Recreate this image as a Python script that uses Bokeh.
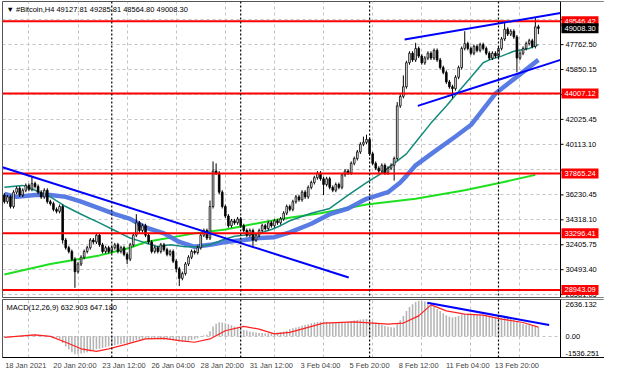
from bokeh.plotting import figure
from bokeh.layouts import column
from bokeh.models import FixedTicker, Span, Label, ColumnDataSource, Range1d, Grid
from bokeh.core.properties import value
from bokeh.embed import file_html
from bokeh.resources import INLINE

# ---------------- data ----------------
symbol_title = "\u25bc #Bitcoin,H4  49127.81 49285.81 48564.80 49008.30"
macd_title = "MACD(12,26,9) 632.903 647.180"

date_tick_bars = [0, 16, 32, 48, 64, 80, 96, 112, 128, 144, 160]
date_tick_labels = ["18 Jan 2021", "20 Jan 20:00", "23 Jan 12:00", "26 Jan 04:00", "28 Jan 20:00",
                    "31 Jan 12:00", "3 Feb 04:00", "5 Feb 20:00", "8 Feb 12:00", "11 Feb 04:00",
                    "13 Feb 20:00"]
grid_bars = [8, 24, 40, 56, 72, 88, 104, 120, 136, 152, 168]
week_separator_bars = [35, 77, 119, 161]

price_ticks = [28581.05, 30493.40, 32405.75, 34318.10, 36230.45, 38142.80, 40113.10,
               42025.45, 43937.80, 45850.15, 47762.50, 49674.85]
shown_price_ticks = [28581.05, 30493.40, 32405.75, 34318.10, 36230.45, 40113.10,
                     42025.45, 45850.15, 47762.50]

levels = [49546.42, 44007.12, 37865.24, 33296.41, 28943.09]
current_price = 49008.30

first_open = 36220.0
closes = [
    35710, 36080, 35340, 36440, 36740, 36220, 36590, 36960, 36660, 37100,
    36880, 36440, 36080, 36590, 35710, 35560, 35120, 34970, 35340, 32770,
    32180, 31890, 31300, 30340, 30930, 31450, 31890, 32180, 32770, 32620,
    33140, 32400, 31890, 32180, 31890, 32180, 32400, 31890, 32180, 31670,
    31300, 32400, 33140, 34090, 33500, 33870, 33140, 32620, 31890, 32180,
    31890, 32400, 32030, 31670, 31890, 31150, 30560, 29830, 30200, 30930,
    31450, 31890, 31810, 32180, 33140, 33500, 32920, 35340, 38060, 37910,
    36440, 35340, 34610, 33870, 34240, 34090, 34390, 33870, 33500, 33140,
    33500, 32770, 33140, 33500, 33870, 33650, 34090, 33870, 34240, 34090,
    34390, 34830, 35340, 35120, 35710, 36080, 35860, 36440, 36080, 36810,
    37180, 37550, 37910, 37470, 37030, 37470, 36810, 36590, 37030, 36810,
    37770, 38060, 37910, 38650, 39020, 39530, 40120, 40270, 40490, 39380,
    38650, 38280, 38060, 38500, 37910, 38280, 38500, 39020, 43060, 43790,
    44530, 46370, 47100, 46590, 47470, 46880, 46370, 46730, 47100, 46730,
    47320, 46590, 46000, 45630, 44900, 44530, 44380, 45260, 46000, 47470,
    47840, 47470, 47100, 47620, 47320, 47760, 47470, 47100, 46730, 47100,
    46880, 47470, 48200, 48940, 48570, 48790, 48350, 46730, 47100, 47470,
    47840, 48060, 47620, 49127.81, 49008.30,
]
high_marks = {9: 37690, 43: 34750, 67: 35800, 68: 38800, 69: 38650, 117: 40700, 118: 40850,
              128: 43350, 130: 45400, 134: 47900, 150: 48790, 163: 49450, 173: 49820, 174: 49285.81}
low_marks = {19: 32500, 23: 29100, 40: 30930, 56: 30300, 57: 29240, 81: 32180, 104: 36220,
             127: 37330, 146: 43650, 167: 45630, 174: 48564.80}
default_wick = 150.0

teal_bars = [0, 6, 10, 15, 20, 25, 31, 36, 41, 46, 50, 54, 59, 63, 67, 71, 75, 78, 83, 87,
             90, 93, 100, 106, 112, 118, 123, 127, 131, 134, 139, 144, 148, 152, 156, 158, 162, 166, 171, 174]
teal_vals = [36810, 36960, 36590, 36080, 35340, 34750, 34090, 33500, 32920, 32550,
             32250, 32400, 32250, 32250, 32400, 32770, 33060, 33140, 33280, 33580,
             33870, 34250, 34830, 35190, 36220, 37180, 37910, 38650, 39380, 40270,
             41740, 43060, 44160, 45260, 46370, 46590, 46880, 47250, 47470, 47760]

blue_bars = [0, 4, 10, 15, 20, 25, 31, 36, 41, 46, 52, 57, 62, 67, 72, 78, 83, 88, 93, 100,
             106, 112, 118, 125, 129, 131, 134, 140, 147, 152, 160, 168, 174]
blue_vals = [36300, 36080, 36220, 36220, 36080, 35710, 35190, 34750, 34390, 33730,
             33280, 32620, 32250, 32400, 32620, 32770, 32920, 32990, 33360, 34020,
             34750, 35190, 35930, 36440, 37180, 37690, 38500, 39530, 40710, 41590,
             44010, 45480, 46590]

green_bars = [0, 15, 31, 41, 46, 62, 72, 90, 103, 118, 134, 150, 162, 173]
green_vals = [30120, 30930, 31590, 32180, 32620, 33280, 33580, 34390, 34830, 35490,
              35930, 36590, 37180, 37770]

trend_down_bars = [-0.6, 112.2]
trend_down_vals = [38350, 29900]
channel_up_bars = [130.4, 181.2]
channel_up_vals = [48150, 50190]
channel_low_bars = [134.7, 181.2]
channel_low_vals = [43060, 46590]

macd_hist = [
    -60, -40, -20, 0, 30, 50,
    80, 100, 120, 130, 120, 100, 90,
    60, 30, 0, -60, -120, -200,
    -500, -750, -950, -1150, -1300, -1300, -1250, -1200, -1150,
    -1100, -1000, -950, -900, -850, -800, -750,
    -700, -650, -600, -560, -520, -500, -450, -380, -300, -260, -220,
    -200, -200, -220, -230, -230, -230, -240, -240, -250, -280, -320, -380, -400, -380, -340,
    -280, -220, -150, -50, 50, 100,
    350, 700, 900, 1000, 980, 930, 860, 780,
    700, 600, 520, 450, 400, 340, 300, 260, 230, 220, 200,
    200, 210, 230, 260, 300, 340, 380, 500, 560, 620,
    680, 740, 800, 860, 920, 980, 1020, 1040, 1040, 1030,
    1000, 980, 960, 960, 980, 1000, 1040, 1080, 1120, 1160, 1200, 1220, 1230,
    1150, 1050, 960, 880, 800, 730, 680, 640, 620,
    850, 1150, 1450, 1800, 2100, 2300, 2450, 2550, 2550, 2500, 2400,
    2250, 2100, 1950, 1800, 1650, 1500, 1400, 1350,
    1380, 1450, 1550, 1600, 1620, 1600, 1580, 1550, 1520, 1500,
    1450, 1400, 1350, 1300, 1280, 1300, 1350, 1350, 1330,
    1200, 1050, 950, 880, 820, 780, 740, 700, 632.903,
]
signal_bars = [0, 10, 15, 20, 25, 30, 34, 39, 46, 52, 57, 62, 67, 72, 78, 83, 88, 93, 104,
               114, 125, 130, 135, 139, 144, 150, 156, 162, 169, 174]
signal_vals = [-85, 85, -15, -440, -910, -1100, -910, -630, -200, -160, -320, -440, -200, 390,
               700, 510, 160, 270, 940, 1030, 870, 940, 1460, 2250, 1815, 1580, 1510, 1225,
               980, 647.18]
macd_trend_bars = [137.8, 177.5]
macd_trend_vals = [2407, 797]
macd_min, macd_max = -1536.251, 2636.132
macd_scale_vals = [2636.132, 0.0, -1536.251]
macd_scale_labels = ["2636.132", "0.00", "-1536.251"]

# ---------------- layout constants ----------------
FONT = "Liberation Sans"
FS = "7.5px"
X0, X1 = -0.6, 181.2             # bar range of the chart area
CHART_W = 558                    # chart area width in px
AXIS_W = 44                      # price scale width in px
PPB = CHART_W / (X1 - X0)        # px per bar
XE = X0 + (CHART_W + AXIS_W) / PPB
Y0, Y1 = 28360, 51070
FIG_W = 2 + CHART_W + AXIS_W

xr = Range1d(X0, XE)


def base_figure(height, y_range, border_bottom, x_axis):
    f = figure(width=FIG_W, height=height, x_range=xr, y_range=y_range,
               output_backend="svg", toolbar_location=None,
               x_axis_location=x_axis, y_axis_location=None,
               min_border_left=2, min_border_right=0, min_border_top=1,
               min_border_bottom=border_bottom,
               background_fill_color="white", border_fill_color="white",
               outline_line_color="#555555")
    if len(f.xgrid) == 0:
        f.add_layout(Grid(dimension=0))
    if len(f.ygrid) == 0:
        f.add_layout(Grid(dimension=1))
    f.xgrid.ticker = FixedTicker(ticks=grid_bars)
    for g in (f.xgrid, f.ygrid):
        g.grid_line_color = "#c4c4c4"
        g.grid_line_dash = "3 3"
    for b in week_separator_bars:
        f.add_layout(Span(location=b, dimension="height", line_color="black",
                          line_dash="2 2", line_width=1.2))
    return f


def scale_strip(f, lo, hi):
    f.quad(left=[X1], right=[XE], bottom=[lo], top=[hi], fill_color="white", line_color=None)
    f.segment(x0=[X1], x1=[X1], y0=[lo], y1=[hi], line_color="black", line_width=1)


# ---------------- price pane ----------------
n = len(closes)
opens = [first_open] + closes[:-1]
idx = list(range(n))
highs, lows = [], []
for i in idx:
    o, c = opens[i], closes[i]
    highs.append(high_marks.get(i, max(o, c) + default_wick))
    lows.append(low_marks.get(i, min(o, c) - default_wick))
tops = [max(o, c) for o, c in zip(opens, closes)]
bots = [min(o, c) for o, c in zip(opens, closes)]
fills = ["white" if c >= o else "black" for o, c in zip(opens, closes)]
src = ColumnDataSource(dict(x=idx, h=highs, l=lows, top=tops, bot=bots, fill=fills))

p = base_figure(298, Range1d(Y0, Y1), 1, None)
p.ygrid.ticker = FixedTicker(ticks=price_ticks)

p.line(green_bars, green_vals, line_color="#1ee01e", line_width=2)
p.line(blue_bars, blue_vals, line_color="#4f74e3", line_width=4.5, line_alpha=0.95)
p.line(teal_bars, teal_vals, line_color="#138a7c", line_width=1.5)

p.segment(x0="x", y0="l", x1="x", y1="h", source=src, line_color="black", line_width=1)
p.vbar(x="x", top="top", bottom="bot", width=0.55, source=src, fill_color="fill",
       line_color="black", line_width=0.8)

p.segment(x0=[X0] * len(levels), x1=[X1] * len(levels), y0=levels, y1=levels,
          line_color="#ff0000", line_width=2)

p.line(trend_down_bars, trend_down_vals, line_color="#0000ff", line_width=2)
p.line(channel_up_bars, channel_up_vals, line_color="#0000ff", line_width=2)
p.line(channel_low_bars, channel_low_vals, line_color="#0000ff", line_width=2)

scale_strip(p, Y0, Y1)
p.segment(x0=[X1] * len(price_ticks), x1=[X1 + 3 / PPB] * len(price_ticks),
          y0=price_ticks, y1=price_ticks, line_color="black", line_width=1)
p.text(x=[X1] * len(shown_price_ticks), y=shown_price_ticks,
       text=[f"{t:.2f}" for t in shown_price_ticks], x_offset=5,
       text_baseline="middle", text_align="left", text_color="black",
       text_font=value(FONT), text_font_size=FS)
box_x = X1 + 19.5 / PPB
p.rect(x=[box_x] * len(levels), y=levels, width=37, height=10, width_units="screen",
       height_units="screen", fill_color="#ff0000", line_color=None)
p.text(x=[X1] * len(levels), y=levels, text=[f"{v:.2f}" for v in levels], x_offset=4,
       text_baseline="middle", text_align="left", text_color="white",
       text_font=value(FONT), text_font_size=FS)
p.rect(x=[box_x], y=[current_price], width=37, height=10, width_units="screen",
       height_units="screen", fill_color="black", line_color=None)
p.text(x=[X1], y=[current_price], text=[f"{current_price:.2f}"], x_offset=4,
       text_baseline="middle", text_align="left", text_color="white",
       text_font=value(FONT), text_font_size=FS)

p.add_layout(Label(x=X0, y=Y1, x_offset=4, y_offset=-3, text=symbol_title, text_color="black",
                   text_font=FONT, text_font_size=FS, text_baseline="top", text_align="left"))

# ---------------- MACD pane ----------------
m = base_figure(74, Range1d(macd_min, macd_max), 1, "below")
m.ygrid.ticker = FixedTicker(ticks=[0.0])

# date labels start at their bar, so each label centre sits about 7 bars to its right
date_label_shift = 7
date_label_pos = [b + date_label_shift for b in date_tick_bars]
m.xaxis.ticker = FixedTicker(ticks=date_label_pos)
m.xaxis.major_label_overrides = dict(zip(date_label_pos, date_tick_labels))
m.xaxis.major_label_text_font = FONT
m.xaxis.major_label_text_font_size = FS
m.xaxis.major_label_standoff = 3
m.xaxis.major_tick_out = 0
m.xaxis.major_tick_in = 0
m.xaxis.minor_tick_out = 0
m.xaxis.minor_tick_in = 0
m.xaxis.major_tick_line_color = None
m.xaxis.minor_tick_line_color = None
m.xaxis.axis_line_color = "black"

m.vbar(x=idx, top=macd_hist, bottom=0, width=0.5, fill_color="#b4b4b4", line_color=None)
m.line(signal_bars, signal_vals, line_color="#ff2020", line_width=1.2)
m.line(macd_trend_bars, macd_trend_vals, line_color="#0000ff", line_width=2)

scale_strip(m, macd_min, macd_max)
m.text(x=[X1] * 3, y=macd_scale_vals, text=macd_scale_labels, x_offset=5,
       y_offset=[2, 0, -2], text_baseline=["top", "middle", "bottom"], text_align="left",
       text_color="black", text_font=value(FONT), text_font_size=FS)
m.add_layout(Label(x=X0, y=macd_max, x_offset=4, y_offset=-3, text=macd_title, text_color="black",
                   text_font=FONT, text_font_size=FS, text_baseline="top", text_align="left"))

layout = column(p, m, spacing=0)
open("out.html", "w").write(file_html(layout, INLINE))
